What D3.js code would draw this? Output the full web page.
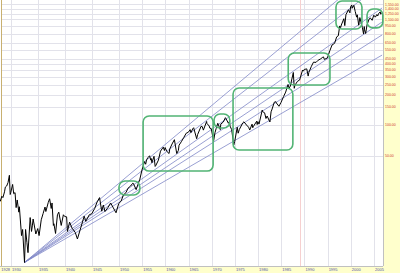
<!DOCTYPE html>
<html>
<head>
<meta charset="utf-8">
<script src="https://cdn.jsdelivr.net/npm/d3@7"></script>
<style>
  html, body { margin: 0; padding: 0; background: white; }
  svg { display: block; }
</style>
</head>
<body>
<div id="chart"></div>
<script>
// S&P 500, 1928 - 2006, log scale, fan lines from the 1932 low

const dates = [
  1928.0, 1928.3, 1928.5, 1928.8, 1928.95, 1929.2, 1929.45, 1929.7, 1929.85, 1929.95,
  1930.3, 1930.5, 1930.75, 1930.95, 1931.15, 1931.45, 1931.55, 1931.95, 1932.15, 1932.5,
  1932.7, 1932.95, 1933.15, 1933.55, 1933.8, 1933.95, 1934.1, 1934.6, 1934.95, 1935.2,
  1935.6, 1935.95, 1936.3, 1936.45, 1936.9, 1937.15, 1937.45, 1937.6, 1937.85, 1937.95,
  1938.25, 1938.6, 1938.85, 1939.3, 1939.7, 1939.95, 1940.3, 1940.45, 1940.85, 1941.3,
  1941.9, 1942.3, 1942.95, 1943.55, 1943.85, 1944.5, 1944.95, 1945.5, 1945.95, 1946.4,
  1946.8, 1947.1, 1947.4, 1947.95, 1948.45, 1948.95, 1949.45, 1949.95, 1950.45, 1950.95,
  1951.5, 1951.95, 1952.5, 1952.95, 1953.1, 1953.7, 1953.95, 1954.5, 1954.95, 1955.5,
  1955.75, 1955.95, 1956.3, 1956.6, 1956.85, 1956.95, 1957.1, 1957.55, 1957.8, 1957.95,
  1958.5, 1958.95, 1959.55, 1959.8, 1959.95, 1960.3, 1960.8, 1960.95, 1961.45, 1961.95,
  1962.45, 1962.8, 1962.95, 1963.5, 1963.95, 1964.5, 1964.95, 1965.35, 1965.5, 1965.95,
  1966.1, 1966.75, 1966.95, 1967.7, 1967.95, 1968.2, 1968.9, 1968.95, 1969.45, 1969.6,
  1969.9, 1970.4, 1970.7, 1970.95, 1971.3, 1971.85, 1971.95, 1972.5, 1972.95, 1973.05,
  1973.6, 1973.8, 1973.95, 1974.3, 1974.75, 1974.95, 1975.5, 1975.7, 1975.95, 1976.7,
  1976.95, 1977.5, 1977.95, 1978.2, 1978.7, 1978.85, 1978.95, 1979.7, 1979.8, 1979.95,
  1980.2, 1980.9, 1980.95, 1981.4, 1981.7, 1981.95, 1982.55, 1982.8, 1982.95, 1983.5,
  1983.8, 1983.95, 1984.5, 1984.95, 1985.5, 1985.95, 1986.45, 1986.7, 1986.95, 1987.6,
  1987.8, 1987.95, 1988.5, 1988.95, 1989.6, 1989.8, 1989.95, 1990.5, 1990.8, 1990.95,
  1991.5, 1991.95, 1992.5, 1992.95, 1993.5, 1993.95, 1994.1, 1994.3, 1994.95, 1995.5,
  1995.95, 1996.5, 1996.95, 1997.3, 1997.6, 1997.8, 1997.95, 1998.5, 1998.7, 1998.95,
  1999.5, 1999.8, 1999.95, 2000.2, 2000.3, 2000.65, 2000.95, 2001.25, 2001.4, 2001.7,
  2001.95, 2002.5, 2002.75, 2002.9, 2002.95, 2003.2, 2003.5, 2003.95, 2004.2, 2004.6,
  2004.95, 2005.3, 2005.6, 2005.8, 2005.95, 2006.35, 2006.45, 2006.6
];

const prices = [
  17.6, 19.8, 19.2, 21.9, 24.4, 25.0, 27.0, 31.9, 20.6, 21.5,
  25.9, 21.0, 21.5, 15.3, 18.2, 13.8, 15.6, 8.1, 9.3, 4.4,
  9.3, 6.9, 5.5, 12.2, 8.9, 10.1, 11.8, 8.4, 9.5, 8.1,
  11.6, 13.4, 15.5, 14.0, 17.2, 18.7, 15.0, 17.0, 10.2, 10.6,
  8.5, 13.0, 13.8, 10.2, 13.0, 12.5, 12.4, 8.9, 11.0, 9.6,
  8.7, 7.5, 9.8, 12.6, 11.2, 13.0, 13.3, 15.0, 17.4, 19.2,
  14.1, 16.2, 14.0, 15.3, 17.0, 15.2, 13.6, 16.8, 17.7, 20.4,
  21.5, 23.8, 25.0, 26.6, 26.5, 23.0, 24.8, 29.2, 35.9, 43.5,
  41.0, 45.5, 48.0, 49.7, 45.0, 46.7, 42.4, 49.1, 39.0, 39.9,
  45.0, 55.2, 60.5, 56.0, 59.9, 55.0, 52.3, 58.1, 65.0, 71.6,
  52.3, 56.0, 63.1, 69.0, 75.0, 83.0, 84.8, 90.0, 84.1, 92.4,
  94.0, 73.2, 80.3, 97.0, 96.5, 89.0, 108.4, 103.9, 97.7, 93.0,
  92.1, 69.3, 84.0, 92.2, 104.0, 90.0, 102.1, 107.0, 118.1, 116.0,
  104.0, 108.0, 97.6, 90.0, 63.5, 68.6, 95.0, 83.0, 90.2, 105.0,
  107.5, 100.0, 95.1, 89.2, 102.0, 94.0, 96.1, 109.0, 101.0, 107.9,
  102.1, 140.5, 135.8, 132.0, 116.0, 122.6, 107.1, 135.0, 140.6, 168.0,
  170.0, 164.9, 153.0, 167.2, 191.0, 211.3, 250.8, 231.0, 242.2, 329.8,
  230.3, 247.1, 270.0, 277.7, 349.0, 340.0, 353.4, 358.0, 304.0, 330.2,
  380.0, 417.1, 415.0, 435.7, 450.0, 466.5, 470.0, 444.0, 459.3, 545.0,
  615.9, 640.0, 740.7, 760.0, 950.0, 915.0, 970.4, 1120.0, 957.0, 1229.2,
  1372.0, 1280.0, 1469.3, 1530.0, 1420.0, 1517.0, 1320.3, 1160.0, 1224.0, 965.0,
  1148.1, 911.6, 790.0, 936.0, 879.8, 800.0, 975.0, 1111.9, 1140.0, 1080.0,
  1211.9, 1160.0, 1230.0, 1190.0, 1248.3, 1310.0, 1240.0, 1280.0
];

const yearTicks = [1930, 1935, 1940, 1945, 1950, 1955, 1960, 1965, 1970, 1975, 1980, 1985, 1990, 1995, 2000, 2005];
const yearLabels = [1928].concat(yearTicks);
const priceTicks = [1550, 1400, 1250, 1100, 950, 800, 650, 550, 450, 400, 350, 300, 250, 200, 150, 100, 50];

// fan lines: all start at the July 1932 low, end at the right edge
const fanStart = [1932.5, 4.4];
const fanEndDate = 2006.75;
const fanEndValues = [4000, 2500, 1430, 1040, 775, 490];

// highlighted zones [fromYear, toYear, lowValue, highValue]
const zones = [
  [1950.0, 1954.5, 20.4, 28.0],
  [1955.2, 1970.3, 35.1, 122.7],
  [1970.5, 1973.9, 93.4, 128.4],
  [1974.6, 1987.5, 56.7, 232],
  [1986.5, 1995.5, 248, 513],
  [1996.8, 2002.4, 887, 1673],
  [2003.5, 2006.9, 909, 1395]
];

const markerYear = 1989.0;

let
  width = 400,
  height = 273,
  plotRight = 383,
  plotBottom = 266,
  colors = ['white', '#ffffcc', '#e2e2ea', '#d03a28', '#5050a8', '#8088c8', '#52b474', 'black'],
  x, y, svg, line;

// time spacing in the source is not uniform (wider before 1950)
x = d3.scaleLinear()
  .domain([1928, 1930, 1950, 2005])
  .range([0.2, 11, 119, 374]);

y = d3.scaleLog()
  .domain([50, 1600])
  .range([155.5, 3]);

svg = d3.select('#chart')
  .append('svg')
  .attr('width', width)
  .attr('height', height)
  .attr('style', 'background: ' + colors[0] + ';');

// axis strips
svg.append('rect')
  .attr('x', plotRight).attr('y', 0)
  .attr('width', width - plotRight).attr('height', height)
  .attr('fill', colors[1]);

svg.append('rect')
  .attr('x', 0).attr('y', plotBottom)
  .attr('width', width).attr('height', height - plotBottom)
  .attr('fill', colors[1]);

// vertical gridlines
svg.append('g')
  .selectAll('line')
  .data(yearTicks)
  .enter().append('line')
  .attr('x1', function (d) { return Math.round(x(d)) + 0.5; })
  .attr('x2', function (d) { return Math.round(x(d)) + 0.5; })
  .attr('y1', 0)
  .attr('y2', plotBottom)
  .attr('stroke', colors[2])
  .attr('stroke-width', 1);

// horizontal gridlines
svg.append('g')
  .selectAll('line')
  .data(priceTicks)
  .enter().append('line')
  .attr('x1', 2)
  .attr('x2', plotRight)
  .attr('y1', function (d) { return Math.round(y(d)) + 0.5; })
  .attr('y2', function (d) { return Math.round(y(d)) + 0.5; })
  .attr('stroke', colors[2])
  .attr('stroke-width', 1);

// marker line
svg.append('line')
  .attr('x1', Math.round(x(markerYear)) + 0.5)
  .attr('x2', Math.round(x(markerYear)) + 0.5)
  .attr('y1', 0)
  .attr('y2', plotBottom)
  .attr('stroke', '#f6d0d0')
  .attr('stroke-width', 1);

// borders
svg.append('line')
  .attr('x1', 1.5).attr('x2', 1.5)
  .attr('y1', 0).attr('y2', plotBottom)
  .attr('stroke', '#c8b070');

svg.append('line')
  .attr('x1', plotRight + 0.5).attr('x2', plotRight + 0.5)
  .attr('y1', 0).attr('y2', plotBottom)
  .attr('stroke', '#c0c0c0');

svg.append('line')
  .attr('x1', 0).attr('x2', plotRight)
  .attr('y1', plotBottom + 0.5).attr('y2', plotBottom + 0.5)
  .attr('stroke', '#c0c0c0');

// fan lines
svg.append('g')
  .selectAll('line')
  .data(fanEndValues)
  .enter().append('line')
  .attr('x1', x(fanStart[0]))
  .attr('y1', y(fanStart[1]))
  .attr('x2', x(fanEndDate))
  .attr('y2', function (d) { return y(d); })
  .attr('stroke', colors[5])
  .attr('stroke-width', 0.8);

// price
line = d3.line()
  .x(function (d, i) { return x(dates[i]); })
  .y(function (d) { return y(d); });

svg.append('path')
  .datum(prices)
  .attr('fill', 'none')
  .attr('stroke', colors[7])
  .attr('stroke-width', 1)
  .attr('stroke-linejoin', 'round')
  .attr('d', line);

// zones
svg.append('g')
  .selectAll('rect')
  .data(zones)
  .enter().append('rect')
  .attr('x', function (d) { return x(d[0]); })
  .attr('y', function (d) { return y(d[3]); })
  .attr('width', function (d) { return x(d[1]) - x(d[0]); })
  .attr('height', function (d) { return y(d[2]) - y(d[3]); })
  .attr('rx', 6)
  .attr('fill', 'none')
  .attr('stroke', colors[6])
  .attr('stroke-width', 1.6);

// price labels
svg.append('g')
  .selectAll('text')
  .data(priceTicks)
  .enter().append('text')
  .attr('x', plotRight + 2)
  .attr('y', function (d) { return y(d); })
  .attr('dy', '0.35em')
  .attr('font-family', 'Liberation Sans, Arial, sans-serif')
  .attr('font-size', 3.5)
  .attr('fill', colors[3])
  .text(function (d) { return d3.format(',.2f')(d); });

// year labels
svg.append('g')
  .selectAll('text')
  .data(yearLabels)
  .enter().append('text')
  .attr('x', function (d) { return x(d) + 1; })
  .attr('y', plotBottom + 5)
  .attr('font-family', 'Liberation Sans, Arial, sans-serif')
  .attr('font-size', 4)
  .attr('fill', colors[4])
  .text(String);
</script>
</body>
</html>
